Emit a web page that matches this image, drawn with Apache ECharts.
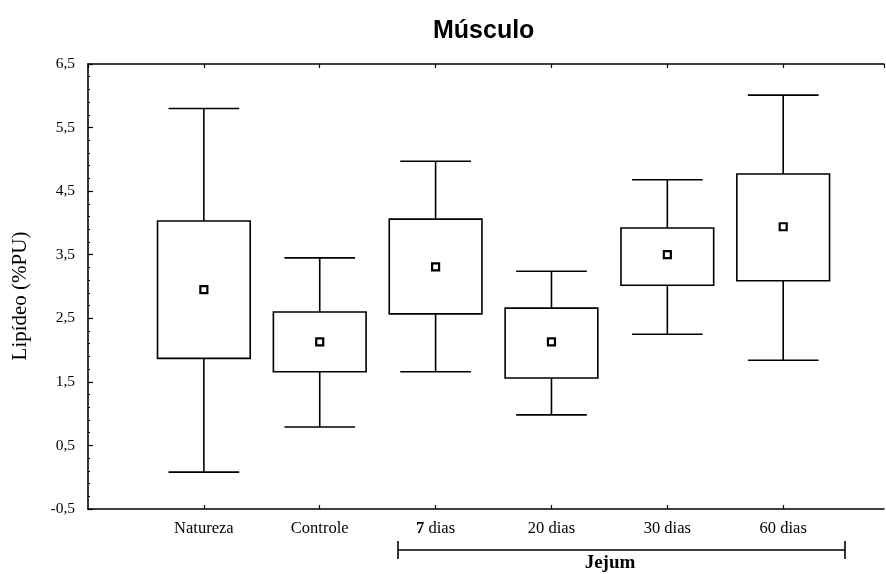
<!DOCTYPE html>
<html>
<head>
<meta charset="utf-8">
<script src="https://cdn.jsdelivr.net/npm/echarts@6/dist/echarts.min.js"></script>
<style>
  html, body { margin: 0; padding: 0; background: #fff; }
  #container { width: 886px; height: 574px; }
</style>
</head>
<body>
<div id="container"></div>
<script>
// dados
var categories = ['Natureza', 'Controle', '7 dias', '20 dias', '30 dias', '60 dias'];
var whiskerLow = [0.08, 0.79, 1.66, 0.98, 2.25, 1.84];
var boxLow = [1.87, 1.66, 2.57, 1.56, 3.02, 3.09];
var means = [2.95, 2.13, 3.31, 2.13, 3.50, 3.94];
var boxHigh = [4.03, 2.60, 4.06, 2.66, 3.92, 4.77];
var whiskerHigh = [5.80, 3.45, 4.97, 3.24, 4.68, 6.01];
var yTicks = ['-0,5', '0,5', '1,5', '2,5', '3,5', '4,5', '5,5', '6,5'];

var serif = '"Liberation Serif", "DejaVu Serif", serif';
var data = categories.map(function (c, i) {
	return [i + 1, whiskerLow[i], boxLow[i], means[i], boxHigh[i], whiskerHigh[i]];
});

var myChart = echarts.init(document.getElementById('container'));

function renderBox(params, api) {
	var x = api.value(0);
	var lo = api.coord([x, api.value(1)]);
	var q1 = api.coord([x, api.value(2)]);
	var m = api.coord([x, api.value(3)]);
	var q3 = api.coord([x, api.value(4)]);
	var hi = api.coord([x, api.value(5)]);
	var unit = api.size([1, 0])[0];
	var bw = unit * 0.4;
	var cw = unit * 0.305;
	var ls = { stroke: '#000', lineWidth: 1.6, fill: null };
	return {
		type: 'group',
		children: [
			{ type: 'line', shape: { x1: lo[0], y1: lo[1], x2: q1[0], y2: q1[1] }, style: ls },
			{ type: 'line', shape: { x1: q3[0], y1: q3[1], x2: hi[0], y2: hi[1] }, style: ls },
			{ type: 'line', shape: { x1: lo[0] - cw, y1: lo[1], x2: lo[0] + cw, y2: lo[1] }, style: ls },
			{ type: 'line', shape: { x1: hi[0] - cw, y1: hi[1], x2: hi[0] + cw, y2: hi[1] }, style: ls },
			{ type: 'rect', shape: { x: q3[0] - bw, y: q3[1], width: bw * 2, height: q1[1] - q3[1] },
				style: { stroke: '#000', lineWidth: 1.6, fill: '#fff' } },
			{ type: 'rect', shape: { x: m[0] - 3.5, y: m[1] - 3.5, width: 7, height: 7 },
				style: { stroke: '#000', lineWidth: 2.2, fill: '#fff' } }
		]
	};
}

myChart.setOption({
	animation: false,
	backgroundColor: '#fff',
	title: {
		text: 'Músculo',
		left: 428,
		top: 14,
		textStyle: { fontFamily: '"Liberation Sans", Arial, sans-serif', fontWeight: 'bold', fontSize: 25, color: '#000' }
	},
	grid: { left: 88, right: 2, top: 64, bottom: 65, containLabel: false, outerBoundsMode: 'none' },
	xAxis: [{
		type: 'value',
		min: 0,
		max: 6.87,
		interval: 1,
		splitLine: { show: false },
		axisLine: { onZero: false, lineStyle: { color: '#000', width: 1.6 } },
		axisTick: { inside: true, length: 4, lineStyle: { color: '#000', width: 1.2 } },
		axisLabel: {
			showMinLabel: false,
			showMaxLabel: false,
			margin: 11,
			fontFamily: serif,
			fontSize: 16.5,
			color: '#000',
			formatter: function (v) {
				var c = categories[v - 1];
				if (!c) return '';
				if (c === '7 dias') return '{b|7} dias';
				return c;
			},
			rich: { b: { fontFamily: serif, fontSize: 16.5, fontWeight: 'bold', color: '#000' } }
		}
	}, {
		type: 'value',
		position: 'top',
		min: 0,
		max: 6.87,
		interval: 1,
		splitLine: { show: false },
		axisLine: { onZero: false, lineStyle: { color: '#000', width: 1.6 } },
		axisTick: { inside: true, length: 4, lineStyle: { color: '#000', width: 1.2 } },
		axisLabel: { show: false }
	}],
	yAxis: {
		type: 'value',
		min: -0.5,
		max: 6.5,
		interval: 1,
		splitLine: { show: false },
		axisLine: { show: true, onZero: false, lineStyle: { color: '#000', width: 1.6 } },
		axisTick: { inside: true, length: 5, lineStyle: { color: '#000', width: 1.2 } },
		minorTick: { show: true, splitNumber: 5, length: 2, lineStyle: { color: '#000' } },
		axisLabel: {
			margin: 13,
			fontFamily: serif,
			fontSize: 15.5,
			color: '#000',
			formatter: function (v) {
				return yTicks[Math.round(v + 0.5)];
			}
		}
	},
	series: [{
		type: 'custom',
		renderItem: renderBox,
		encode: { x: 0, y: [1, 2, 3, 4, 5] },
		data: data,
		z: 5
	}],
	graphic: [
		// titulo do eixo y
		{ type: 'text', x: 20, y: 296, rotation: Math.PI / 2, style: {
			text: 'Lipídeo (%PU)', fill: '#000', fontFamily: serif, fontSize: 21,
			textAlign: 'center', textVerticalAlign: 'middle'
		} },
		// chave do jejum
		{ type: 'line', shape: { x1: 398, y1: 550, x2: 845, y2: 550 }, style: { stroke: '#000', lineWidth: 1.6 } },
		{ type: 'line', shape: { x1: 398, y1: 541, x2: 398, y2: 559 }, style: { stroke: '#000', lineWidth: 1.6 } },
		{ type: 'line', shape: { x1: 845, y1: 541, x2: 845, y2: 559 }, style: { stroke: '#000', lineWidth: 1.6 } },
		{ type: 'text', x: 610, y: 563, style: {
			text: 'Jejum', fill: '#000', fontFamily: serif, fontSize: 19, fontWeight: 'bold',
			textAlign: 'center', textVerticalAlign: 'middle'
		} }
	]
});
</script>
</body>
</html>
